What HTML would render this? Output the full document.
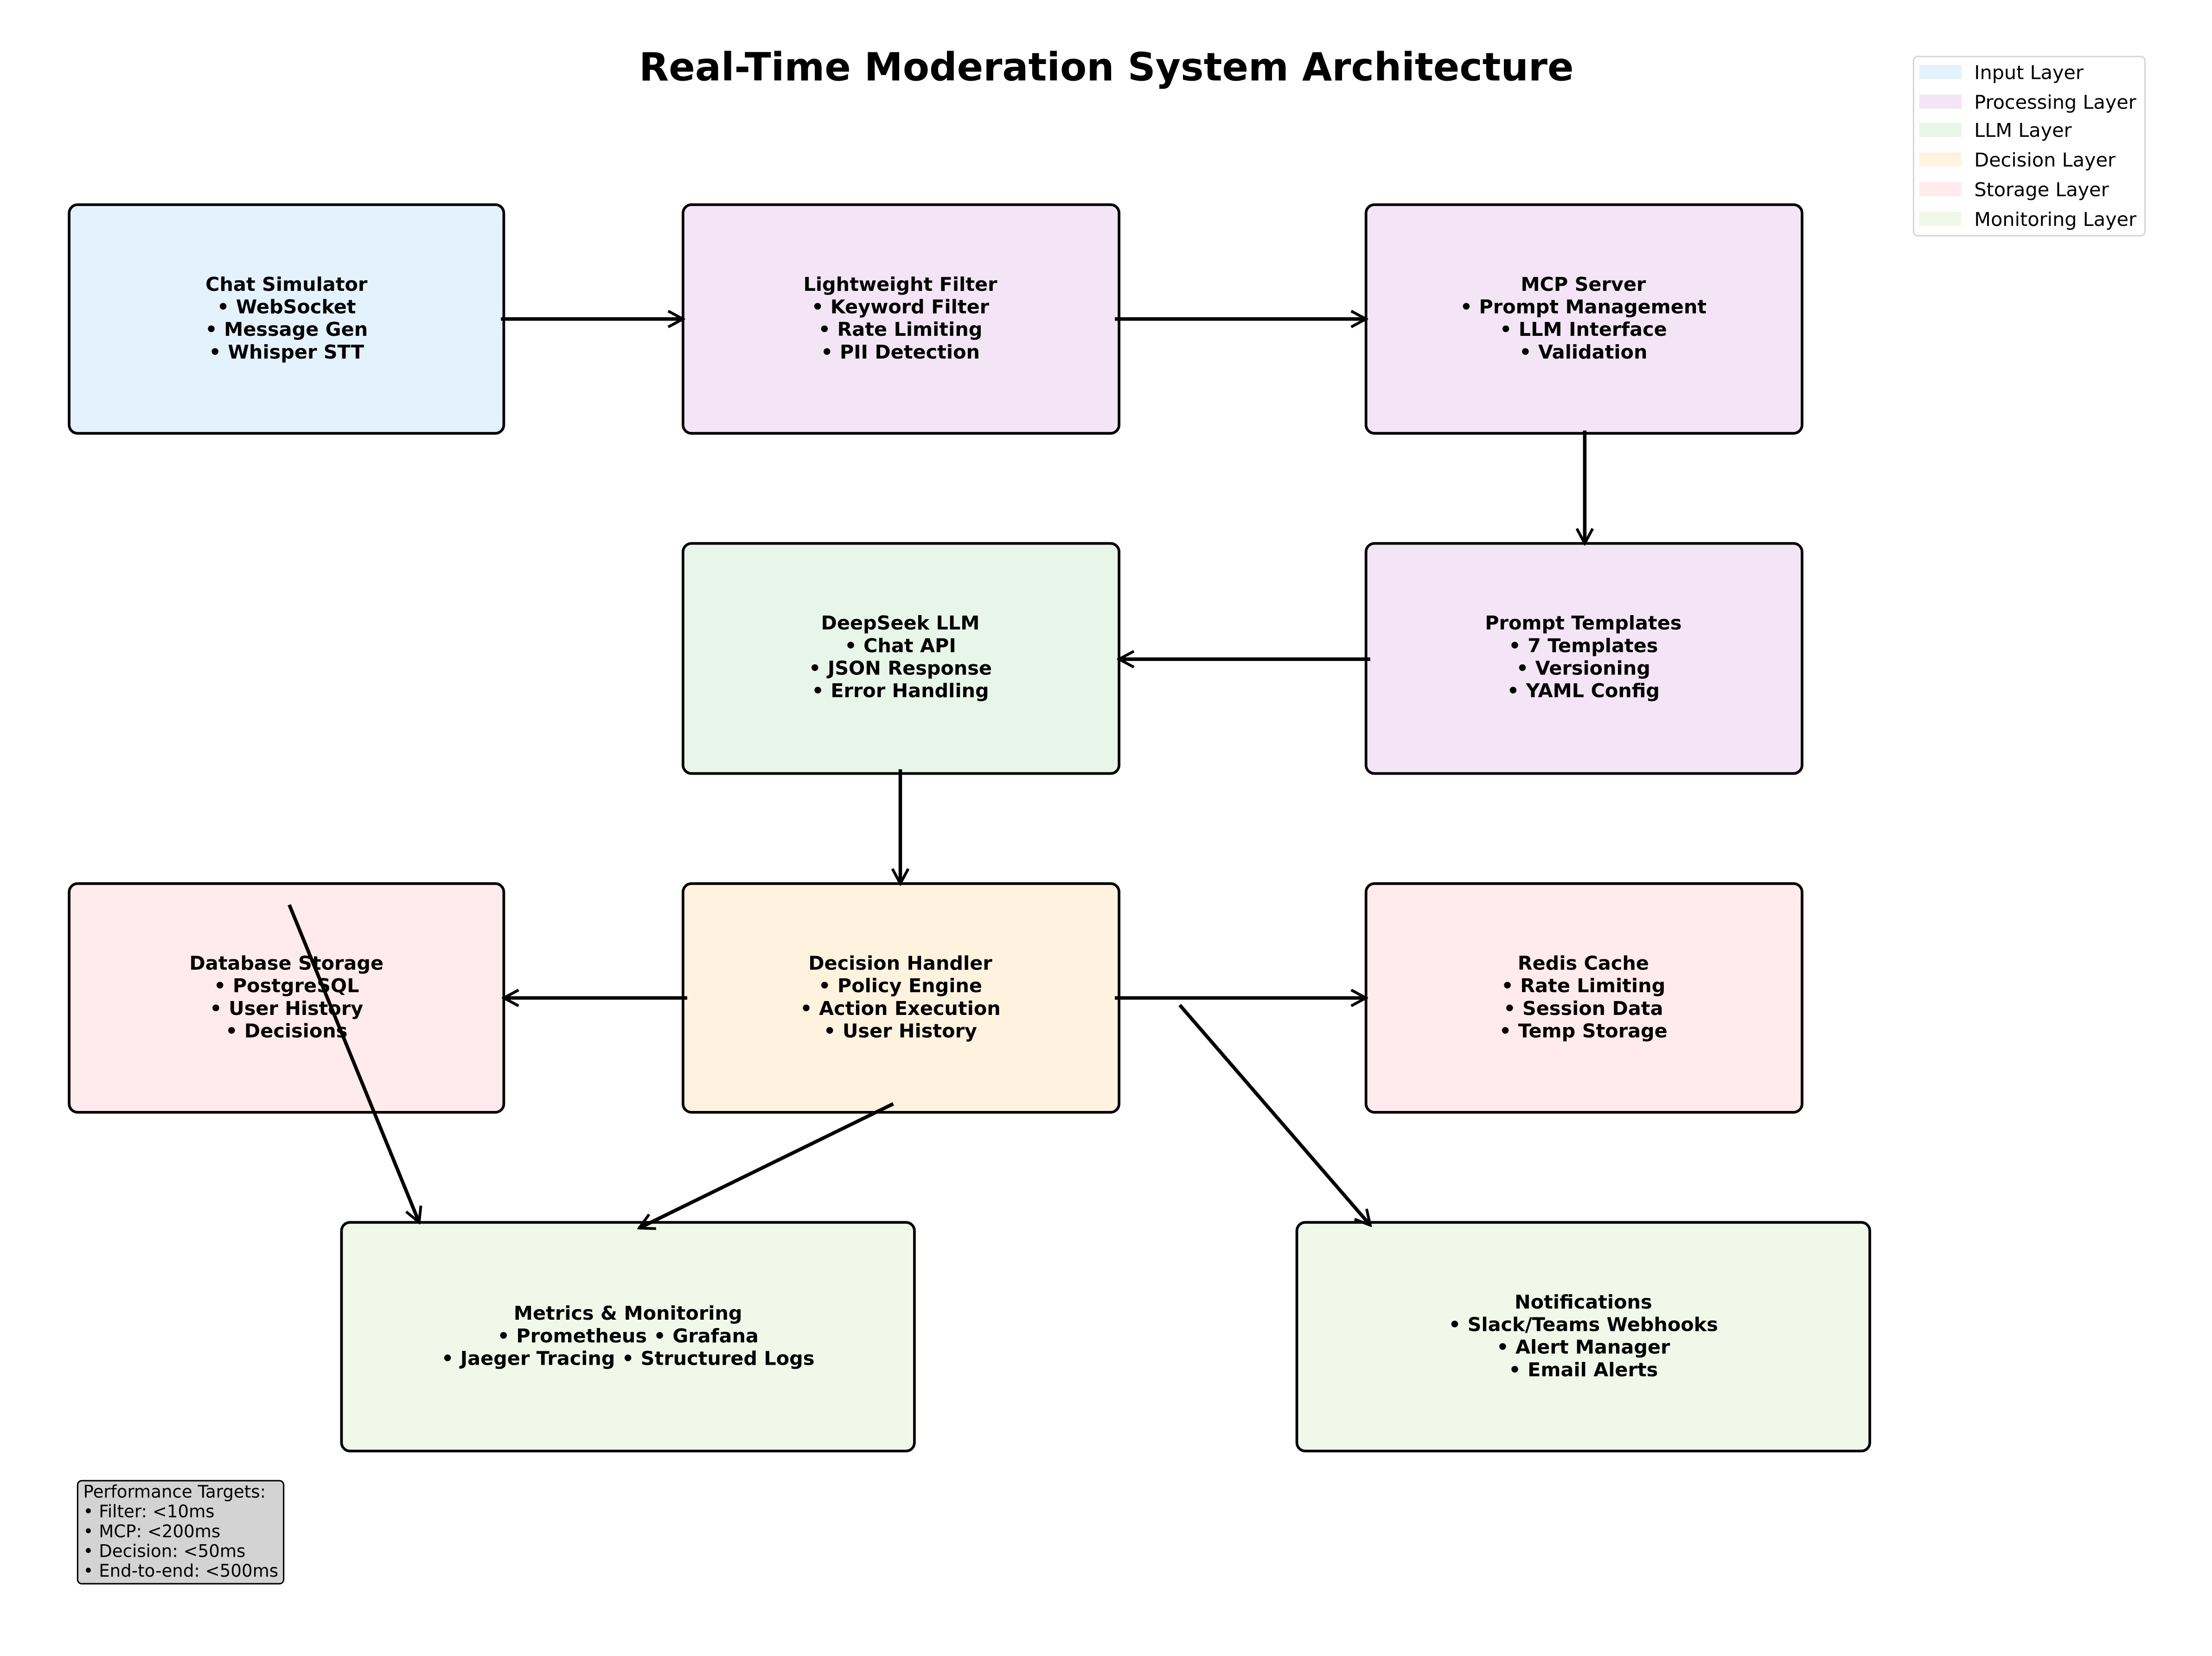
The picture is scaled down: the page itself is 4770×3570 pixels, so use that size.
<!DOCTYPE html>
<html><head><meta charset="utf-8"><style>html,body{margin:0;padding:0;background:#fff}svg{display:block}</style></head>
<body>
<svg width="4770" height="3570" viewBox="0 0 1567.5 1173.2" preserveAspectRatio="none" xmlns="http://www.w3.org/2000/svg" font-family="'DejaVu Sans','Liberation Sans',sans-serif">
<defs>
<marker id="a" viewBox="0 0 20 20" refX="18" refY="10" markerWidth="15" markerHeight="15" markerUnits="userSpaceOnUse" orient="auto">
<path d="M4,2.5 L18,10 L4,17.5" fill="none" stroke="#000" stroke-width="2.6"/>
</marker>
</defs>
<rect width="1567.5" height="1173.2" fill="#fff"/>
<text x="784" y="57" font-size="27.4" font-weight="bold" text-anchor="middle">Real-Time Moderation System Architecture</text>

<g stroke="#000" stroke-width="1.9">
<rect x="49" y="145" width="308" height="162" rx="6" fill="#e3f2fd"/>
<rect x="484" y="145" width="309" height="162" rx="6" fill="#f3e5f5"/>
<rect x="968" y="145" width="309" height="162" rx="6" fill="#f3e5f5"/>
<rect x="968" y="385" width="309" height="163" rx="6" fill="#f3e5f5"/>
<rect x="484" y="385" width="309" height="163" rx="6" fill="#e8f5e9"/>
<rect x="49" y="626" width="308" height="162" rx="6" fill="#ffebee"/>
<rect x="484" y="626" width="309" height="162" rx="6" fill="#fff3e0"/>
<rect x="968" y="626" width="309" height="162" rx="6" fill="#ffebee"/>
<rect x="242" y="866" width="406" height="162" rx="6" fill="#f1f8e9"/>
<rect x="919" y="866" width="406" height="162" rx="6" fill="#f1f8e9"/>
</g>

<g font-size="13.6" font-weight="bold" text-anchor="middle">
<text x="203" y="206">Chat Simulator</text><text x="203" y="222">• WebSocket</text><text x="203" y="238">• Message Gen</text><text x="203" y="254">• Whisper STT</text>
<text x="638" y="206">Lightweight Filter</text><text x="638" y="222">• Keyword Filter</text><text x="638" y="238">• Rate Limiting</text><text x="638" y="254">• PII Detection</text>
<text x="1122" y="206">MCP Server</text><text x="1122" y="222">• Prompt Management</text><text x="1122" y="238">• LLM Interface</text><text x="1122" y="254">• Validation</text>
<text x="1122" y="446">Prompt Templates</text><text x="1122" y="462">• 7 Templates</text><text x="1122" y="478">• Versioning</text><text x="1122" y="494">• YAML Config</text>
<text x="638" y="446">DeepSeek LLM</text><text x="638" y="462">• Chat API</text><text x="638" y="478">• JSON Response</text><text x="638" y="494">• Error Handling</text>
<text x="203" y="687">Database Storage</text><text x="203" y="703">• PostgreSQL</text><text x="203" y="719">• User History</text><text x="203" y="735">• Decisions</text>
<text x="638" y="687">Decision Handler</text><text x="638" y="703">• Policy Engine</text><text x="638" y="719">• Action Execution</text><text x="638" y="735">• User History</text>
<text x="1122" y="687">Redis Cache</text><text x="1122" y="703">• Rate Limiting</text><text x="1122" y="719">• Session Data</text><text x="1122" y="735">• Temp Storage</text>
<text x="445" y="935">Metrics &amp; Monitoring</text><text x="445" y="951">• Prometheus • Grafana</text><text x="445" y="967">• Jaeger Tracing • Structured Logs</text>
<text x="1122" y="927">Notifications</text><text x="1122" y="943">• Slack/Teams Webhooks</text><text x="1122" y="959">• Alert Manager</text><text x="1122" y="975">• Email Alerts</text>
</g>

<g stroke="#000" stroke-width="2.5" fill="none" marker-end="url(#a)">
<line x1="355" y1="226" x2="484" y2="226"/>
<line x1="790" y1="226" x2="968" y2="226"/>
<line x1="1123" y1="305" x2="1123" y2="385"/>
<line x1="971" y1="467" x2="793" y2="467"/>
<line x1="638" y1="545" x2="638" y2="626"/>
<line x1="487" y1="707" x2="357" y2="707"/>
<line x1="790" y1="707" x2="968" y2="707"/>
<line x1="205" y1="641" x2="297" y2="866"/>
<line x1="633" y1="782" x2="453" y2="870"/>
<line x1="836" y1="712" x2="971" y2="868"/>
</g>

<rect x="1356" y="40" width="164" height="127" rx="3" fill="#fff" stroke="#d6d6d6" stroke-width="1"/>
<g>
<rect x="1360" y="46" width="30" height="10" fill="#e3f2fd"/>
<rect x="1360" y="67" width="30" height="10" fill="#f3e5f5"/>
<rect x="1360" y="87" width="30" height="10" fill="#e8f5e9"/>
<rect x="1360" y="108" width="30" height="10" fill="#fff3e0"/>
<rect x="1360" y="129" width="30" height="10" fill="#ffebee"/>
<rect x="1360" y="150" width="30" height="10" fill="#f1f8e9"/>
</g>
<g font-size="13.6">
<text x="1399" y="56">Input Layer</text>
<text x="1399" y="77">Processing Layer</text>
<text x="1399" y="97">LLM Layer</text>
<text x="1399" y="118">Decision Layer</text>
<text x="1399" y="139">Storage Layer</text>
<text x="1399" y="160">Monitoring Layer</text>
</g>

<rect x="55" y="1049" width="146" height="73" rx="3" fill="#d3d3d3" stroke="#000" stroke-width="1"/>
<g font-size="12.2">
<text x="59" y="1061">Performance Targets:</text>
<text x="59" y="1075">• Filter: &lt;10ms</text>
<text x="59" y="1089">• MCP: &lt;200ms</text>
<text x="59" y="1103">• Decision: &lt;50ms</text>
<text x="59" y="1117">• End-to-end: &lt;500ms</text>
</g>
</svg>
</body></html>
